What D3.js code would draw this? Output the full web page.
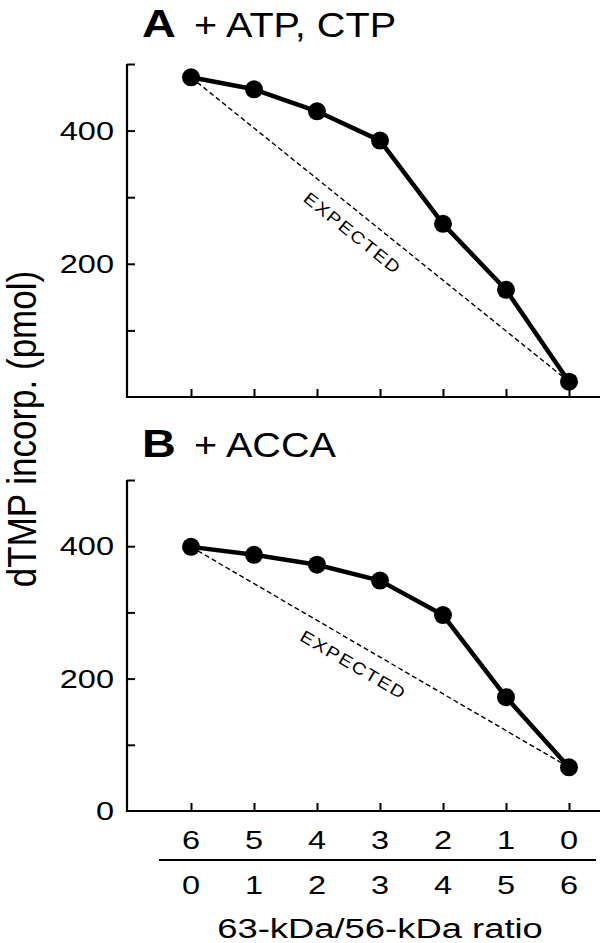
<!DOCTYPE html>
<html><head><meta charset="utf-8">
<script src="https://cdn.jsdelivr.net/npm/d3@7"></script>
<style>body{margin:0;background:#fff}svg{display:block}text{font-family:"Liberation Sans",Arial,sans-serif;fill:#000}</style>
</head><body>
<script>
// data
const ratio63 = ["6","5","4","3","2","1","0"];
const ratio56 = ["0","1","2","3","4","5","6"];
const valuesA = [480, 462, 429, 385, 260, 161, 23];
const valuesB = [399, 387, 372, 348, 296, 172, 66];
const yTicks = [0, 100, 200, 300, 400, 500];
const yLabelsA = [200, 400];
const yLabelsB = [0, 200, 400];
const panelTitles = [["A", "+ ATP, CTP"], ["B", "+ ACCA"]];
const yAxisTitle = "dTMP incorp. (pmol)";
const xAxisTitle = "63-kDa/56-kDa ratio";
const expectedLabel = "EXPECTED";

const W = 600, H = 943;
const SX = 1.3; // horizontal stretch of the lettering
const svg = d3.select("body").append("svg").attr("width", W).attr("height", H);

const x = d3.scalePoint().domain(ratio56).range([191, 569]);

function stretchedText(sel, tx, ty, anchor, size, sx, str, weight) {
  return sel.append("text")
    .attr("transform", `translate(${tx},${ty}) scale(${sx},1)`)
    .attr("text-anchor", anchor).attr("font-size", size)
    .attr("font-weight", weight || "normal").text(str);
}

function panel(vals, y0, y1, labels, title, titleY) {
  const y = d3.scaleLinear().domain([0, 500]).range([y0, y1]);
  const g = svg.append("g");
  // y axis
  const ya = d3.axisRight(y).tickValues(yTicks.filter(t => t > 0)).tickSize(8).tickFormat("");
  const yg = g.append("g").attr("transform", "translate(127,0)").call(ya);
  yg.select(".domain").remove();
  yg.selectAll("line").attr("stroke", "#000").attr("stroke-width", 2);
  g.append("line").attr("x1", 127).attr("x2", 127).attr("y1", y(500)).attr("y2", y(0) + 1)
    .attr("stroke", "#000").attr("stroke-width", 2.2);
  labels.forEach(d => stretchedText(g, 114, y(d) + 9, "end", 25, SX, d));
  // x axis
  const xa = d3.axisTop(x).tickSize(8).tickFormat("");
  const xg = g.append("g").attr("transform", `translate(0,${y(0)})`).call(xa);
  xg.select(".domain").remove();
  xg.selectAll("line").attr("stroke", "#000").attr("stroke-width", 2);
  g.append("line").attr("x1", 126).attr("x2", 600).attr("y1", y(0)).attr("y2", y(0))
    .attr("stroke", "#000").attr("stroke-width", 2.2);
  // expected dashed line
  const p0 = [x(ratio56[0]), y(vals[0])], p1 = [x(ratio56[6]), y(vals[6])];
  g.append("line").attr("x1", p0[0]).attr("y1", p0[1]).attr("x2", p1[0]).attr("y2", p1[1])
    .attr("stroke", "#000").attr("stroke-width", 1.4).attr("stroke-dasharray", "5,3");
  const ang = Math.atan2(p1[1] - p0[1], p1[0] - p0[0]) * 180 / Math.PI;
  const mx = (p0[0] + p1[0]) / 2, my = (p0[1] + p1[1]) / 2;
  g.append("text")
    .attr("transform", `translate(${mx},${my}) rotate(${ang}) translate(-19,26) scale(1.15,1)`)
    .attr("text-anchor", "middle").attr("font-size", 17).attr("letter-spacing", 1.6)
    .text(expectedLabel);
  // data line
  const line = d3.line().x((d, i) => x(ratio56[i])).y(d => y(d));
  g.append("path").datum(vals).attr("d", line).attr("fill", "none")
    .attr("stroke", "#000").attr("stroke-width", 4.5).attr("stroke-linejoin", "round");
  g.selectAll("circle").data(vals).enter().append("circle")
    .attr("cx", (d, i) => x(ratio56[i])).attr("cy", d => y(d)).attr("r", 9).attr("fill", "#000");
  // title
  stretchedText(g, 142, titleY, "start", 39, 1.2, title[0], "bold");
  stretchedText(g, 194, titleY, "start", 36, 1.1, title[1]);
  return y;
}

panel(valuesA, 397, 64, yLabelsA, panelTitles[0], 37);
panel(valuesB, 811, 480, yLabelsB, panelTitles[1], 457);

// bottom labels
ratio63.forEach((d, i) => stretchedText(svg, x(ratio56[i]), 849, "middle", 25, SX, d));
svg.append("line").attr("x1", 159).attr("x2", 596).attr("y1", 860).attr("y2", 860)
  .attr("stroke", "#000").attr("stroke-width", 2);
ratio56.forEach(d => stretchedText(svg, x(d), 894, "middle", 25, SX, d));
stretchedText(svg, 380, 938, "middle", 28, SX, xAxisTitle);
svg.append("text").attr("transform", "translate(36,429) rotate(-90) scale(1,1.15)")
  .attr("text-anchor", "middle").attr("font-size", 35).text(yAxisTitle);
</script>
</body></html>
